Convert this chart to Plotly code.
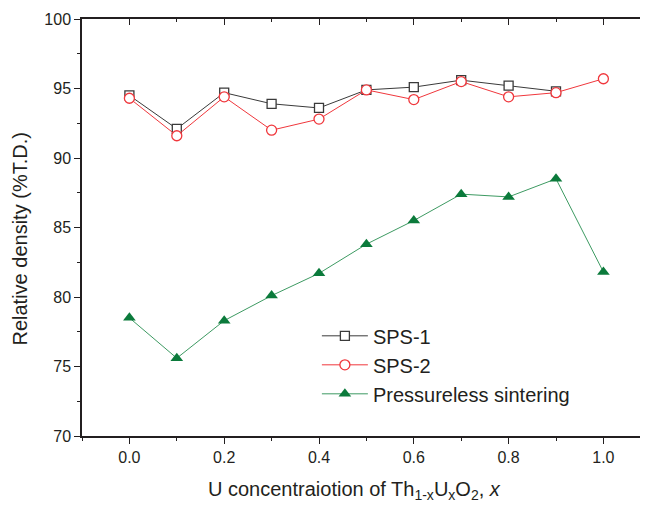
import plotly.graph_objects as go

x_vals = [0.0, 0.1, 0.2, 0.3, 0.4, 0.5, 0.6, 0.7, 0.8, 0.9, 1.0]
x_sps1 = [0.0, 0.1, 0.2, 0.3, 0.4, 0.5, 0.6, 0.7, 0.8, 0.9]
sps1 = [94.5, 92.1, 94.7, 93.9, 93.6, 94.9, 95.1, 95.6, 95.2, 94.8]
sps2 = [94.3, 91.6, 94.4, 92.0, 92.8, 94.9, 94.2, 95.5, 94.4, 94.7, 95.7]
pressureless = [78.5, 75.6, 78.3, 80.1, 81.7, 83.8, 85.5, 87.4, 87.2, 88.5, 81.8]

x_ticks = [0.0, 0.2, 0.4, 0.6, 0.8, 1.0]
x_ticklabels = ["0.0", "0.2", "0.4", "0.6", "0.8", "1.0"]
y_ticks = [70, 75, 80, 85, 90, 95, 100]

x_title = "U concentraiotion of Th<sub>1-x</sub>U<sub>x</sub>O<sub>2</sub>, <i>x</i>"
y_title = "Relative density (%T.D.)"

FONT = "Liberation Sans, Arial, sans-serif"
AX = "#231f20"
XR = [-0.1, 1.0941]
YR = [70, 100]

fig = go.Figure()
fig.add_trace(go.Scatter(
    x=x_sps1, y=sps1, name="SPS-1", mode="lines+markers",
    line=dict(color="#3a3a3a", width=1),
    marker=dict(symbol="square", size=9, color="white", line=dict(width=1.3, color="#3a3a3a")),
))
fig.add_trace(go.Scatter(
    x=x_vals, y=sps2, name="SPS-2", mode="lines+markers",
    line=dict(color="#f0373c", width=1),
    marker=dict(symbol="circle", size=10, color="white", line=dict(width=1.3, color="#f0373c")),
))
fig.add_trace(go.Scatter(
    x=x_vals, y=pressureless, name="Pressureless sintering", mode="lines+markers",
    line=dict(color="#3d9a62", width=1),
    marker=dict(symbol="triangle-up", size=11, color="#0b7a3b"),
))
# helper trace to activate mirror axes (no visible marks)
fig.add_trace(go.Scatter(
    x=x_vals, y=pressureless, xaxis="x2", yaxis="y2", mode="markers",
    marker=dict(opacity=0), showlegend=False, hoverinfo="skip",
))

fig.update_layout(
    width=640, height=497,
    margin=dict(l=74, r=0, t=11, b=69, autoexpand=False),
    paper_bgcolor="white", plot_bgcolor="white",
    font=dict(family=FONT, color="#231f20"),
    showlegend=True,
    legend=dict(
        x=0.415, y=0.287, xanchor="left", yanchor="top",
        bgcolor="rgba(0,0,0,0)", borderwidth=0,
        font=dict(family=FONT, size=20, color="#231f20"),
        itemwidth=46, tracegroupgap=0,
    ),
    xaxis=dict(
        range=XR, showgrid=False, zeroline=False, automargin=False,
        showline=True, linecolor=AX, linewidth=1.5,
        tickmode="array", tickvals=x_ticks, ticktext=x_ticklabels,
        ticks="outside", ticklen=6, tickwidth=1.2, tickcolor=AX,
        minor=dict(ticks="outside", ticklen=3, dtick=0.1, tick0=0, tickcolor=AX, tickwidth=1.2),
        tickfont=dict(family=FONT, size=16, color="#231f20"),
    ),
    yaxis=dict(
        range=YR, showgrid=False, zeroline=False, automargin=False,
        showline=True, linecolor=AX, linewidth=1.5,
        tickmode="array", tickvals=y_ticks,
        ticks="outside", ticklen=6, tickwidth=1.2, tickcolor=AX,
        minor=dict(ticks="outside", ticklen=3, dtick=2.5, tick0=70, tickcolor=AX, tickwidth=1.2),
        tickfont=dict(family=FONT, size=16, color="#231f20"),
    ),
    xaxis2=dict(
        overlaying="x", side="top", anchor="y", range=XR, automargin=False,
        showgrid=False, zeroline=False, showline=True, linecolor=AX, linewidth=1.5,
        tickmode="array", tickvals=x_ticks, showticklabels=False,
        ticks="inside", ticklen=6, tickwidth=1.2, tickcolor=AX,
        minor=dict(ticks="inside", ticklen=3, dtick=0.1, tick0=0, tickcolor=AX, tickwidth=1.2),
    ),
    yaxis2=dict(
        overlaying="y", side="right", anchor="x", range=YR, automargin=False,
        showgrid=False, zeroline=False, showline=False,
        tickmode="array", tickvals=y_ticks, showticklabels=False,
        ticks="inside", ticklen=5, tickwidth=1.2, tickcolor=AX,
        minor=dict(ticks="inside", ticklen=3, dtick=2.5, tick0=70, tickcolor=AX, tickwidth=1.2),
    ),
    annotations=[
        dict(text=x_title, xref="paper", yref="paper", x=0.4806, y=-0.1295,
             xanchor="center", yanchor="middle", showarrow=False,
             font=dict(family=FONT, size=20, color="#231f20")),
        dict(text=y_title, xref="paper", yref="paper", x=-0.1104, y=0.4724,
             xanchor="center", yanchor="middle", showarrow=False, textangle=-90,
             font=dict(family=FONT, size=20, color="#231f20")),
    ],
)

fig.write_html("out.html")
